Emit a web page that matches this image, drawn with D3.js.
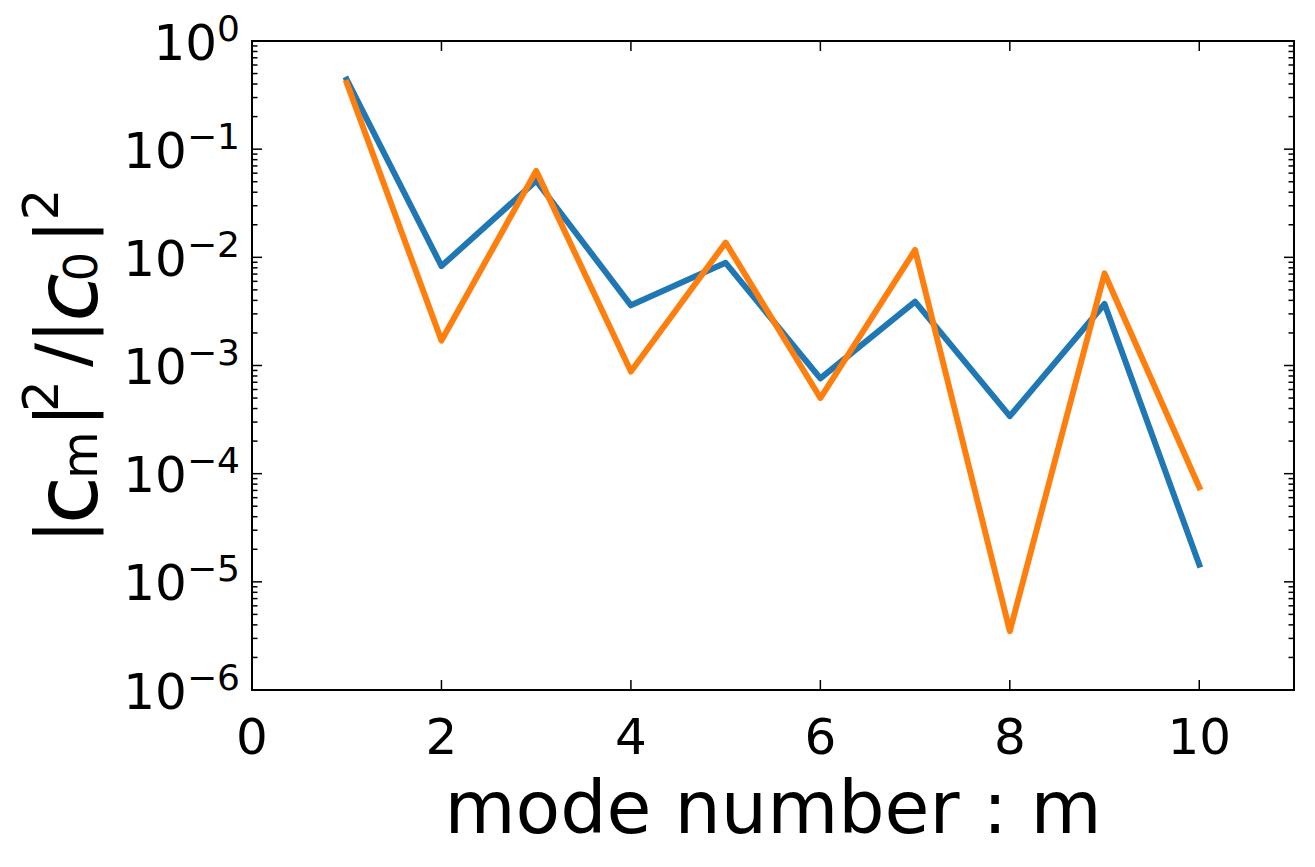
<!DOCTYPE html>
<html>
<head>
<meta charset="utf-8">
<script src="https://cdn.jsdelivr.net/npm/d3@7"></script>
<style>
  html, body { margin: 0; padding: 0; background: #fff; }
  svg { display: block; font-family: "DejaVu Sans", sans-serif; }
</style>
</head>
<body>
<svg id="chart" width="1315" height="867"></svg>
<script>
// ---- data ----
const modes = [1, 2, 3, 4, 5, 6, 7, 8, 9, 10];
const seriesBlue = [0.44, 0.0083, 0.051, 0.0036, 0.0089, 0.00076, 0.0039, 0.00034, 0.0037, 1.44e-5];
const seriesOrange = [0.41, 0.0017, 0.063, 0.00088, 0.0137, 0.0005, 0.0117, 3.5e-6, 0.0071, 7.5e-5];
const xTicks = [0, 2, 4, 6, 8, 10];
const yExponents = [0, -1, -2, -3, -4, -5, -6];
const xLabel = "mode number : m";

(function () {
  // ---- layout ----
  const svg = d3.select("#chart");
  const pLeft = 252, pRight = 1294, pTop = 41, pBottom = 690;

  const x = d3.scaleLinear().domain([0, 11]).range([pLeft, pRight]);
  const y = d3.scaleLog().domain([1e-6, 1]).range([pBottom, pTop]);

  const minorVals = [];
  for (let e = -6; e < 0; e++) {
    for (let k = 2; k <= 9; k++) minorVals.push(k * Math.pow(10, e));
  }
  const majorVals = yExponents.map(e => Math.pow(10, e));

  const g = svg.append("g");

  // y ticks (inward, both sides)
  const tickG = g.append("g").attr("stroke", "#000").attr("stroke-width", 1.5);
  [[pLeft, 1], [pRight, -1]].forEach(([xx, dir]) => {
    tickG.selectAll(null).data(majorVals).join("line")
      .attr("x1", xx).attr("x2", xx + dir * 10)
      .attr("y1", d => y(d)).attr("y2", d => y(d));
    tickG.selectAll(null).data(minorVals).join("line")
      .attr("x1", xx).attr("x2", xx + dir * 5.5)
      .attr("y1", d => y(d)).attr("y2", d => y(d));
  });
  // x ticks (inward, both sides)
  [[pBottom, -1], [pTop, 1]].forEach(([yy, dir]) => {
    tickG.selectAll(null).data(xTicks).join("line")
      .attr("x1", d => x(d)).attr("x2", d => x(d))
      .attr("y1", yy).attr("y2", yy + dir * 10);
  });

  // y tick labels
  const yl = g.append("g").attr("fill", "#000");
  yExponents.forEach(e => {
    const t = yl.append("text")
      .attr("x", 240).attr("y", y(Math.pow(10, e)) + 18.5)
      .attr("text-anchor", "end")
      .attr("font-size", 50);
    t.append("tspan").text("10");
    t.append("tspan").attr("font-size", 36).attr("dy", -19)
      .text(e === 0 ? "0" : "\u2212" + (-e));
  });

  // x tick labels
  g.append("g").selectAll("text").data(xTicks).join("text")
    .attr("x", d => x(d)).attr("y", 754)
    .attr("text-anchor", "middle").attr("font-size", 50)
    .text(d => d);

  // x label
  g.append("text").attr("x", (pLeft + pRight) / 2).attr("y", 833)
    .attr("text-anchor", "middle").attr("font-size", 73).text(xLabel);

  // y label: |c_m|^2/|c_0|^2, rotated
  const yLabelParts = [
    { t: "|", size: 71, cx: 3.5, base: -11 },
    { t: "c", size: 88, cx: 35, base: 0 },
    { t: "m", size: 49, cx: 80, base: 0 },
    { t: "|", size: 71, cx: 120, base: -11 },
    { t: "2", size: 50, cx: 139, base: -39 },
    { t: "/", size: 71, cx: 180, base: -11 },
    { t: "|", size: 71, cx: 203.5, base: -11 },
    { t: "c", size: 88, cx: 237.5, base: 0, italic: true },
    { t: "0", size: 46, cx: 268.5, base: 0 },
    { t: "|", size: 71, cx: 303.5, base: -11 },
    { t: "2", size: 50, cx: 330.5, base: -39 }
  ];
  const ylab = g.append("g").attr("transform", "translate(97,535) rotate(-90)");
  ylab.selectAll("text").data(yLabelParts).join("text")
    .attr("x", d => d.cx).attr("y", d => d.base)
    .attr("text-anchor", "middle")
    .attr("font-size", d => d.size)
    .attr("font-style", d => d.italic ? "italic" : "normal")
    .text(d => d.t);

  // lines
  const line = d3.line().x(d => x(d[0])).y(d => y(d[1]));
  [[seriesBlue, "#1f77b4"], [seriesOrange, "#ff7f0e"]].forEach(([vals, col]) => {
    g.append("path")
      .datum(modes.map((m, i) => [m, vals[i]]))
      .attr("d", line)
      .attr("fill", "none")
      .attr("stroke", col)
      .attr("stroke-width", 6)
      .attr("stroke-linejoin", "round")
      .attr("stroke-linecap", "square");
  });

  // frame
  g.append("rect").attr("x", pLeft).attr("y", pTop)
    .attr("width", pRight - pLeft).attr("height", pBottom - pTop)
    .attr("fill", "none").attr("stroke", "#000").attr("stroke-width", 2);
})();
</script>
</body>
</html>
